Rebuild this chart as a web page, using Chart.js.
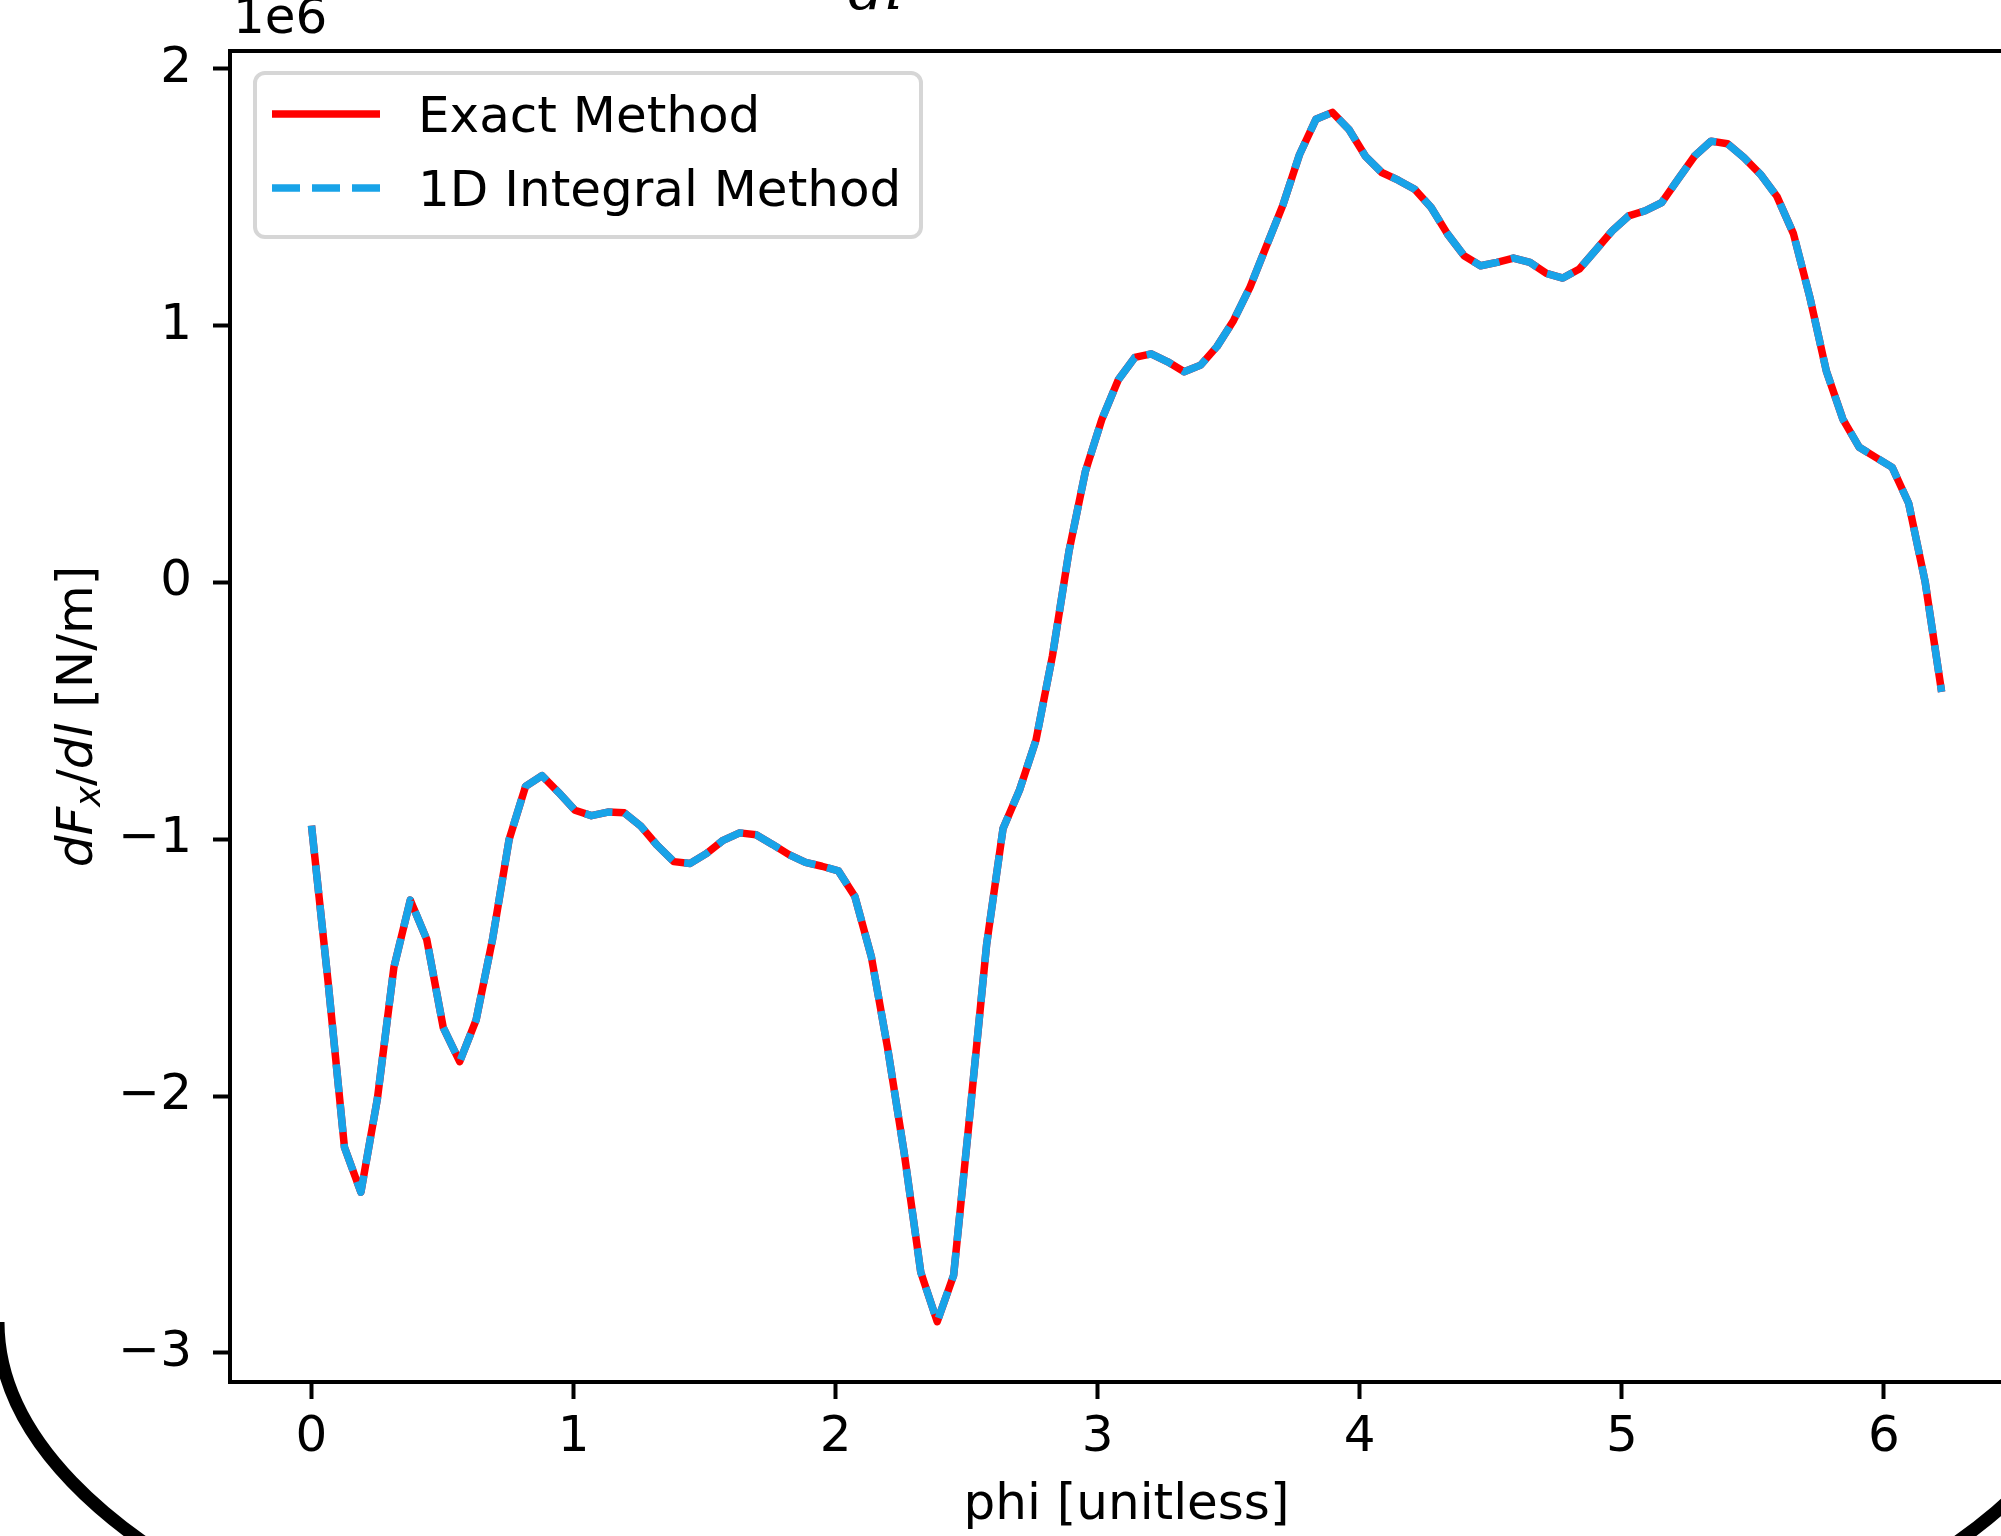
<!DOCTYPE html>
<html>
<head>
<meta charset="utf-8">
<title>dFx/dl vs phi</title>
<script src="https://cdn.jsdelivr.net/npm/chart.js@4.4.1/dist/chart.umd.min.js"></script>
<style>
html, body { margin:0; padding:0; background:#fff; overflow:hidden; }
#wrap { width:2001px; height:1536px; overflow:hidden; }
canvas { display:block; }
</style>
</head>
<body>
<div id="wrap"><canvas id="chart" width="2040" height="1536"></canvas></div>
<script>
// phi samples (100 steps around the loop)
var phi = [
	0.0000, 0.0628, 0.1257, 0.1885, 0.2513, 0.3142, 0.3770, 0.4398, 0.5027, 0.5655,
	0.6283, 0.6912, 0.7540, 0.8168, 0.8796, 0.9425, 1.0053, 1.0681, 1.1310, 1.1938,
	1.2566, 1.3195, 1.3823, 1.4451, 1.5080, 1.5708, 1.6336, 1.6965, 1.7593, 1.8221,
	1.8850, 1.9478, 2.0106, 2.0735, 2.1363, 2.1991, 2.2619, 2.3248, 2.3876, 2.4504,
	2.5133, 2.5761, 2.6389, 2.7018, 2.7646, 2.8274, 2.8903, 2.9531, 3.0159, 3.0788,
	3.1416, 3.2044, 3.2673, 3.3301, 3.3929, 3.4558, 3.5186, 3.5814, 3.6442, 3.7071,
	3.7699, 3.8327, 3.8956, 3.9584, 4.0212, 4.0841, 4.1469, 4.2097, 4.2726, 4.3354,
	4.3982, 4.4611, 4.5239, 4.5867, 4.6496, 4.7124, 4.7752, 4.8381, 4.9009, 4.9637,
	5.0265, 5.0894, 5.1522, 5.2150, 5.2779, 5.3407, 5.4035, 5.4664, 5.5292, 5.5920,
	5.6549, 5.7177, 5.7805, 5.8434, 5.9062, 5.9690, 6.0319, 6.0947, 6.1575, 6.2204
];
// dFx/dl, in units of 1e6 N/m
var exactMethod = [
	-0.947, -1.550, -2.199, -2.374, -2.011, -1.500, -1.237, -1.390, -1.733, -1.866,
	-1.703, -1.387, -1.001, -0.794, -0.752, -0.817, -0.887, -0.908, -0.894, -0.897,
	-0.949, -1.024, -1.087, -1.094, -1.055, -1.004, -0.975, -0.982, -1.020, -1.060,
	-1.090, -1.105, -1.123, -1.223, -1.457, -1.817, -2.223, -2.685, -2.878, -2.697,
	-2.060, -1.411, -0.958, -0.808, -0.614, -0.286, 0.120, 0.432, 0.635, 0.789,
	0.876, 0.890, 0.859, 0.820, 0.846, 0.919, 1.020, 1.150, 1.310, 1.470,
	1.665, 1.803, 1.830, 1.764, 1.660, 1.596, 1.566, 1.531, 1.460, 1.356,
	1.272, 1.233, 1.246, 1.263, 1.246, 1.203, 1.185, 1.220, 1.294, 1.369,
	1.427, 1.447, 1.479, 1.570, 1.660, 1.718, 1.708, 1.654, 1.589, 1.503,
	1.358, 1.110, 0.823, 0.636, 0.526, 0.487, 0.448, 0.308, 0.003, -0.426
];
// the 1D integral curve lies exactly on the exact one in the picture
var integralMethod = exactMethod.slice();

var seriesNames = ["Exact Method", "1D Integral Method"];
var xTicks = [0, 1, 2, 3, 4, 5, 6];
var yTicks = [-3, -2, -1, 0, 1, 2];

var FONT = "DejaVu Sans";
Chart.defaults.font.family = FONT;
Chart.defaults.color = "#000";

function toPoints(xs, ys) {
	var pts = [];
	for (var i = 0; i < xs.length; i++) {
		pts.push({x: xs[i], y: ys[i]});
	}
	return pts;
}

// matplotlib style minus sign
function tickText(v) {
	return v < 0 ? "\u2212" + Math.abs(v) : String(v);
}

// draws a run of text pieces one after the other
function drawPieces(ctx, pieces, x, y) {
	for (var i = 0; i < pieces.length; i++) {
		ctx.font = pieces[i].font;
		ctx.fillText(pieces[i].text, x, y + (pieces[i].dy || 0));
		x += ctx.measureText(pieces[i].text).width;
	}
}
function piecesWidth(ctx, pieces) {
	var w = 0;
	for (var i = 0; i < pieces.length; i++) {
		ctx.font = pieces[i].font;
		w += ctx.measureText(pieces[i].text).width;
	}
	return w;
}

var extras = {
	id: "extras",
	afterDraw: function(chart) {
		var ctx = chart.ctx;
		var a = chart.chartArea;
		ctx.save();

		// top + right spines
		ctx.strokeStyle = "#000";
		ctx.lineWidth = 4;
		ctx.beginPath();
		ctx.moveTo(a.left - 2, a.top);
		ctx.lineTo(a.right, a.top);
		ctx.lineTo(a.right, a.bottom);
		ctx.stroke();

		// offset text above the y axis
		ctx.fillStyle = "#000";
		ctx.textBaseline = "alphabetic";
		ctx.textAlign = "left";
		ctx.font = "50px " + FONT;
		ctx.fillText("1e6", 233, 33);

		// bottom of the title, the rest is cut off
		ctx.font = "italic 58px DejaVu Serif";
		ctx.fillText("dl", 848, 9);

		// y axis label, rotated
		var label = [
			{text: "dF", font: "italic 50px " + FONT},
			{text: "x", font: "italic 35px " + FONT, dy: 8},
			{text: "/", font: "50px " + FONT},
			{text: "dl", font: "italic 50px " + FONT},
			{text: " [N/m]", font: "50px " + FONT}
		];
		ctx.save();
		ctx.translate(92, (a.top + a.bottom) / 2);
		ctx.rotate(-Math.PI / 2);
		drawPieces(ctx, label, -piecesWidth(ctx, label) / 2, 0);
		ctx.restore();

		// legend box
		var bx = 255, by = 73, bw = 666, bh = 164, r = 10;
		ctx.beginPath();
		ctx.moveTo(bx + r, by);
		ctx.arcTo(bx + bw, by, bx + bw, by + bh, r);
		ctx.arcTo(bx + bw, by + bh, bx, by + bh, r);
		ctx.arcTo(bx, by + bh, bx, by, r);
		ctx.arcTo(bx, by, bx + bw, by, r);
		ctx.closePath();
		ctx.fillStyle = "rgba(255,255,255,0.8)";
		ctx.fill();
		ctx.strokeStyle = "#d6d6d6";
		ctx.lineWidth = 4;
		ctx.stroke();

		var sets = chart.data.datasets;
		for (var i = 0; i < sets.length; i++) {
			var ly = 114 + i * 74;
			ctx.beginPath();
			ctx.setLineDash(sets[i].borderDash || []);
			ctx.lineCap = "butt";
			ctx.strokeStyle = sets[i].borderColor;
			ctx.lineWidth = sets[i].borderWidth;
			ctx.moveTo(272, ly);
			ctx.lineTo(380, ly);
			ctx.stroke();
			ctx.setLineDash([]);
			ctx.fillStyle = "#000";
			ctx.font = "50px " + FONT;
			ctx.fillText(sets[i].label, 418, ly + 18);
		}

		// the big round frame at the bottom of the picture
		ctx.beginPath();
		ctx.ellipse(1050, 1322, 1052, 434, 0, 0, Math.PI);
		ctx.strokeStyle = "#000";
		ctx.lineWidth = 13;
		ctx.stroke();

		ctx.restore();
	}
};

var tickFont = {family: FONT, size: 50};

new Chart(document.getElementById("chart"), {
	type: "scatter",
	data: {
		datasets: [
			{
				label: seriesNames[0],
				data: toPoints(phi, exactMethod),
				showLine: true,
				borderColor: "#ff0000",
				borderWidth: 7.5,
				borderCapStyle: "butt",
				borderJoinStyle: "round",
				pointRadius: 0,
				order: 2
			},
			{
				label: seriesNames[1],
				data: toPoints(phi, integralMethod),
				showLine: true,
				borderColor: "#18a3e8",
				borderWidth: 7.5,
				borderDash: [28, 12],
				borderCapStyle: "butt",
				borderJoinStyle: "round",
				pointRadius: 0,
				order: 1
			}
		]
	},
	options: {
		responsive: false,
		animation: false,
		layout: {padding: {left: 0, top: 48, right: 17, bottom: 0}},
		plugins: {legend: {display: false}, tooltip: {enabled: false}},
		elements: {line: {tension: 0}},
		scales: {
			x: {
				type: "linear",
				min: -0.311,
				max: 6.531,
				afterBuildTicks: function(s) { s.ticks = xTicks.map(function(v) { return {value: v}; }); },
				afterFit: function(s) { s.height = 154; },
				ticks: {font: tickFont, color: "#000", padding: 9, autoSkip: false, maxRotation: 0,
					callback: function(v) { return tickText(v); }},
				grid: {drawOnChartArea: false, drawTicks: true, tickLength: 17, tickWidth: 4, tickColor: "#000"},
				border: {display: true, color: "#000", width: 4},
				title: {display: true, text: "phi [unitless]", font: {family: FONT, size: 50}, color: "#000",
					padding: {top: 0, bottom: 0}}
			},
			y: {
				type: "linear",
				min: -3.113,
				max: 2.069,
				afterBuildTicks: function(s) { s.ticks = yTicks.map(function(v) { return {value: v}; }); },
				afterFit: function(s) { s.width = 230; },
				ticks: {font: tickFont, color: "#000", padding: 21, autoSkip: false,
					callback: function(v) { return tickText(v); }},
				grid: {drawOnChartArea: false, drawTicks: true, tickLength: 17, tickWidth: 4, tickColor: "#000"},
				border: {display: true, color: "#000", width: 4}
			}
		}
	},
	plugins: [extras]
});
</script>
</body>
</html>
